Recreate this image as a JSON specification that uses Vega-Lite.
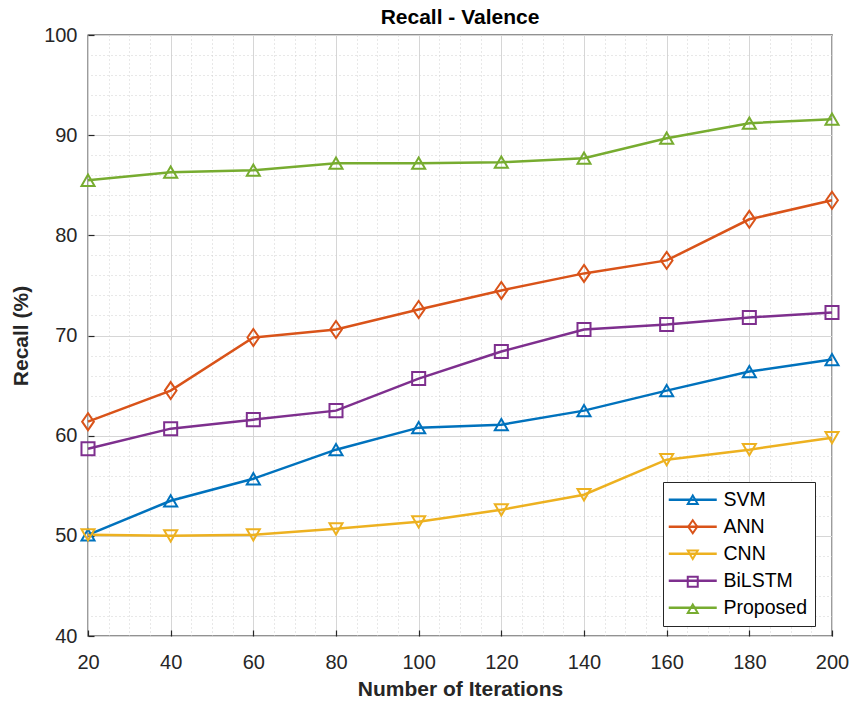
{
  "$schema": "https://vega.github.io/schema/vega-lite/v6.json",
  "width": 744,
  "height": 601,
  "autosize": {"type": "none"},
  "padding": {"left": 88, "top": 35, "right": 23, "bottom": 74},
  "background": "white",
  "title": {"text": "Recall - Valence", "fontSize": 21, "font": "Liberation Sans", "fontWeight": "bold", "color": "#000000", "offset": -3, "frame": "group"},
  "config": {
    "font": "Liberation Sans",
    "view": {"stroke": "#262626", "strokeWidth": 1.3}
  },
  "data": {
    "values": [
      {"iter": 20, "model": "SVM", "recall": 50.1},
      {"iter": 40, "model": "SVM", "recall": 53.5},
      {"iter": 60, "model": "SVM", "recall": 55.7},
      {"iter": 80, "model": "SVM", "recall": 58.6},
      {"iter": 100, "model": "SVM", "recall": 60.8},
      {"iter": 120, "model": "SVM", "recall": 61.1},
      {"iter": 140, "model": "SVM", "recall": 62.5},
      {"iter": 160, "model": "SVM", "recall": 64.5},
      {"iter": 180, "model": "SVM", "recall": 66.4},
      {"iter": 200, "model": "SVM", "recall": 67.6},
      {"iter": 20, "model": "ANN", "recall": 61.4},
      {"iter": 40, "model": "ANN", "recall": 64.5},
      {"iter": 60, "model": "ANN", "recall": 69.8},
      {"iter": 80, "model": "ANN", "recall": 70.6},
      {"iter": 100, "model": "ANN", "recall": 72.6},
      {"iter": 120, "model": "ANN", "recall": 74.5},
      {"iter": 140, "model": "ANN", "recall": 76.2},
      {"iter": 160, "model": "ANN", "recall": 77.5},
      {"iter": 180, "model": "ANN", "recall": 81.6},
      {"iter": 200, "model": "ANN", "recall": 83.5},
      {"iter": 20, "model": "CNN", "recall": 50.1},
      {"iter": 40, "model": "CNN", "recall": 50.0},
      {"iter": 60, "model": "CNN", "recall": 50.1},
      {"iter": 80, "model": "CNN", "recall": 50.7},
      {"iter": 100, "model": "CNN", "recall": 51.4},
      {"iter": 120, "model": "CNN", "recall": 52.6},
      {"iter": 140, "model": "CNN", "recall": 54.1},
      {"iter": 160, "model": "CNN", "recall": 57.6},
      {"iter": 180, "model": "CNN", "recall": 58.6},
      {"iter": 200, "model": "CNN", "recall": 59.8},
      {"iter": 20, "model": "BiLSTM", "recall": 58.7},
      {"iter": 40, "model": "BiLSTM", "recall": 60.7},
      {"iter": 60, "model": "BiLSTM", "recall": 61.6},
      {"iter": 80, "model": "BiLSTM", "recall": 62.5},
      {"iter": 100, "model": "BiLSTM", "recall": 65.7},
      {"iter": 120, "model": "BiLSTM", "recall": 68.4},
      {"iter": 140, "model": "BiLSTM", "recall": 70.6},
      {"iter": 160, "model": "BiLSTM", "recall": 71.1},
      {"iter": 180, "model": "BiLSTM", "recall": 71.8},
      {"iter": 200, "model": "BiLSTM", "recall": 72.3},
      {"iter": 20, "model": "Proposed", "recall": 85.5},
      {"iter": 40, "model": "Proposed", "recall": 86.3},
      {"iter": 60, "model": "Proposed", "recall": 86.5},
      {"iter": 80, "model": "Proposed", "recall": 87.2},
      {"iter": 100, "model": "Proposed", "recall": 87.2},
      {"iter": 120, "model": "Proposed", "recall": 87.3},
      {"iter": 140, "model": "Proposed", "recall": 87.7},
      {"iter": 160, "model": "Proposed", "recall": 89.7},
      {"iter": 180, "model": "Proposed", "recall": 91.2},
      {"iter": 200, "model": "Proposed", "recall": 91.6}
    ]
  },
  "layer": [
    {
      "mark": {"type": "line", "strokeWidth": 2.5},
      "encoding": {
        "x": {
          "field": "iter", "type": "quantitative",
          "scale": {"domain": [20, 200], "nice": false, "zero": false},
          "axis": {
            "orient": "bottom",
            "values": [20, 40, 60, 80, 100, 120, 140, 160, 180, 200],
            "title": "Number of Iterations",
            "titleFontSize": 21, "titleFontWeight": "bold", "titleColor": "#262626", "titlePadding": 6,
            "labelFontSize": 20, "labelColor": "#262626", "labelPadding": 22, "labelFlush": false,
            "ticks": true, "tickSize": -6, "tickColor": "#262626", "tickWidth": 1.2,
            "domain": false,
            "grid": true, "gridColor": "#d6d6d6", "gridWidth": 1,
            "zindex": 0
          }
        },
        "y": {
          "field": "recall", "type": "quantitative",
          "scale": {"domain": [40, 100], "nice": false, "zero": false},
          "axis": {
            "orient": "left",
            "values": [40, 50, 60, 70, 80, 90, 100],
            "title": "Recall (%)",
            "titleFontSize": 21, "titleFontWeight": "bold", "titleColor": "#262626", "titlePadding": 12,
            "labelFontSize": 20, "labelColor": "#262626", "labelPadding": 17, "labelFlush": false,
            "ticks": true, "tickSize": -6, "tickColor": "#262626", "tickWidth": 1.2,
            "domain": false,
            "grid": true, "gridColor": "#d6d6d6", "gridWidth": 1,
            "zindex": 0
          }
        },
        "stroke": {
          "field": "model", "type": "nominal",
          "sort": null,
          "scale": {"range": ["#0072BD", "#D95319", "#EDB120", "#7E2F8E", "#77AC30"]},
          "legend": {
            "title": null, "orient": "none", "legendX": 575, "legendY": 447,
            "symbolType": "M-4.8,0L4.8,0", "symbolSize": 100, "symbolStrokeWidth": 2.5,
            "symbolOffset": 12, "labelOffset": 21,
            "labelFontSize": 19.5, "labelColor": "#000000",
            "rowPadding": 6, "padding": 8,
            "fillColor": "white", "strokeColor": "#262626"
          }
        }
      }
    },
    {
      "mark": {"type": "point", "filled": false, "strokeWidth": 2, "size": 170, "opacity": 1},
      "encoding": {
        "x": {
          "field": "iter", "type": "quantitative",
          "axis": {
            "orient": "top", "title": null, "minExtent": 0, "maxExtent": 0,
            "values": [25, 30, 35, 45, 50, 55, 65, 70, 75, 85, 90, 95, 105, 110, 115, 125, 130, 135, 145, 150, 155, 165, 170, 175, 185, 190, 195],
            "labels": false, "ticks": false, "domain": false,
            "grid": true, "gridColor": "#d0d0d0", "gridDash": [1, 3], "gridWidth": 1,
            "zindex": 0
          }
        },
        "y": {
          "field": "recall", "type": "quantitative",
          "axis": {
            "orient": "right", "title": null, "minExtent": 0, "maxExtent": 0,
            "values": [42, 44, 46, 48, 52, 54, 56, 58, 62, 64, 66, 68, 72, 74, 76, 78, 82, 84, 86, 88, 92, 94, 96, 98],
            "labels": false, "ticks": false, "domain": false,
            "grid": true, "gridColor": "#d0d0d0", "gridDash": [1, 3], "gridWidth": 1,
            "zindex": 0
          }
        },
        "color": {
          "field": "model", "type": "nominal",
          "scale": {"domain": ["SVM", "ANN", "CNN", "BiLSTM", "Proposed"], "range": ["#0072BD", "#D95319", "#EDB120", "#7E2F8E", "#77AC30"]},
          "legend": {
            "title": null, "orient": "none", "legendX": 575, "legendY": 447,
            "symbolStrokeWidth": 2, "symbolSize": 100,
            "symbolOffset": 12, "labelOffset": 21,
            "labelFontSize": 19.5, "labelOpacity": 0,
            "rowPadding": 6, "padding": 8
          }
        },
        "shape": {
          "field": "model", "type": "nominal",
          "scale": {"domain": ["SVM", "ANN", "CNN", "BiLSTM", "Proposed"], "range": ["triangle-up", "M0,-1.3L0.9,0L0,1.3L-0.9,0Z", "triangle-down", "square", "triangle-up"]},
          "legend": {
            "title": null, "orient": "none", "legendX": 575, "legendY": 447,
            "symbolStrokeWidth": 2, "symbolSize": 100,
            "symbolOffset": 12, "labelOffset": 21,
            "labelFontSize": 19.5, "labelOpacity": 0,
            "rowPadding": 6, "padding": 8
          }
        }
      }
    }
  ],
  "resolve": {"axis": {"x": "independent", "y": "independent"}}
}
